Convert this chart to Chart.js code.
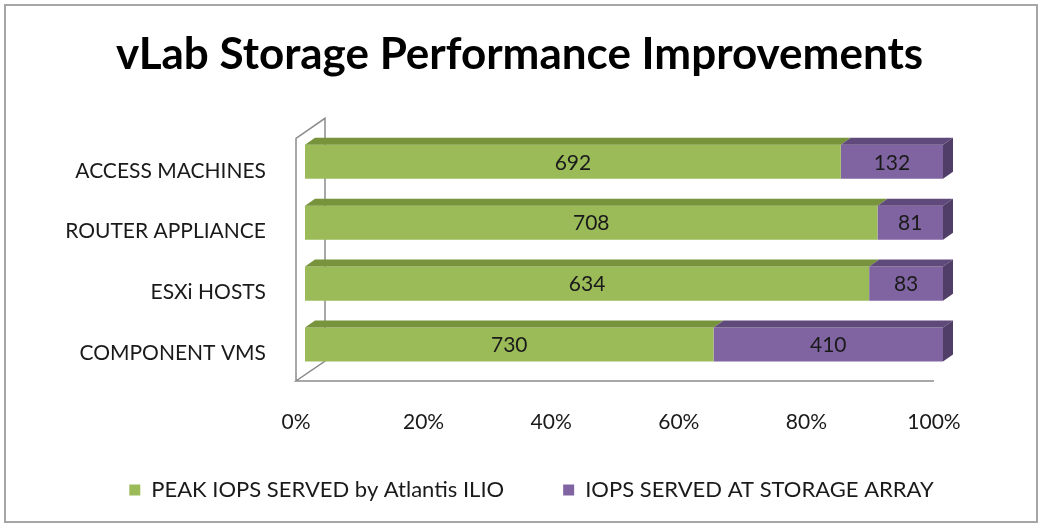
<!DOCTYPE html>
<html>
<head>
<meta charset="utf-8">
<title>vLab Storage Performance Improvements</title>
<script src="https://cdn.jsdelivr.net/npm/chart.js@4/dist/chart.umd.min.js"></script>
<style>
    body { margin: 0; background: #fff; }
    #wrap { position: relative; width: 1039px; height: 525px; }
    #frame {
        position: absolute; left: 4px; top: 4px; width: 1030px; height: 515px;
        border: 2px solid #a6a6a6; pointer-events: none;
    }
    canvas { position: absolute; left: 0; top: 0; }
</style>
</head>
<body>
<div id="wrap">
    <canvas id="storageChart" width="1039" height="525"></canvas>
    <div id="frame"></div>
</div>
<script>
const categories = ["ACCESS MACHINES", "ROUTER APPLIANCE", "ESXi HOSTS", "COMPONENT VMS"];
const peakIops = [692, 708, 634, 730];
const arrayIops = [132, 81, 83, 410];
const seriesNames = ["PEAK IOPS SERVED by Atlantis ILIO", "IOPS SERVED AT STORAGE ARRAY"];
const tickValues = [0, 20, 40, 60, 80, 100];

const frontColors = ["#9BBB59", "#8064A2"];
const topColors = ["#77933C", "#604A7B"];
const sideColor = "#513E68";
const textColor = "#1a1a1a";
const fontFamily = "Lato, 'Open Sans', sans-serif";

// 3d look: how far the top / right faces are pushed back
const DEPTH_X = 10;
const DEPTH_Y = -7;

// 100% stacked: turn each row into shares
const totals = peakIops.map((v, i) => v + arrayIops[i]);
const peakShare = peakIops.map((v, i) => v / totals[i] * 100);
const arrayShare = arrayIops.map((v, i) => v / totals[i] * 100);

const wallPlugin = {
    id: "wall3d",
    beforeDatasetsDraw(chart) {
        const ctx = chart.ctx;
        const area = chart.chartArea;
        const xs = chart.scales.x;
        const fx = xs.getPixelForValue(0) - 9;
        const fxEnd = xs.getPixelForValue(100) - 9;
        const floorY = area.bottom + 6;
        const wallTop = area.top + 7;
        const dx = 29, dy = -20;

        ctx.save();
        ctx.strokeStyle = "#8c8c8c";
        ctx.lineWidth = 1.5;
        ctx.beginPath();
        // left wall, front edge and back edge
        ctx.moveTo(fx, floorY);
        ctx.lineTo(fx, wallTop);
        ctx.lineTo(fx + dx, wallTop + dy);
        ctx.lineTo(fx + dx, floorY + dy);
        ctx.lineTo(fx, floorY);
        // floor front edge
        ctx.lineTo(fxEnd, floorY);
        ctx.stroke();
        ctx.restore();
    }
};

const barFacesPlugin = {
    id: "barFaces",
    afterDatasetsDraw(chart) {
        const ctx = chart.ctx;
        ctx.save();
        chart.data.datasets.forEach((ds, di) => {
            const meta = chart.getDatasetMeta(di);
            meta.data.forEach((bar) => {
                const x0 = Math.min(bar.base, bar.x);
                const x1 = Math.max(bar.base, bar.x);
                const top = bar.y - bar.height / 2;
                const bottom = bar.y + bar.height / 2;

                ctx.fillStyle = topColors[di];
                ctx.beginPath();
                ctx.moveTo(x0, top);
                ctx.lineTo(x0 + DEPTH_X, top + DEPTH_Y);
                ctx.lineTo(x1 + DEPTH_X, top + DEPTH_Y);
                ctx.lineTo(x1, top);
                ctx.closePath();
                ctx.fill();

                if (di === chart.data.datasets.length - 1) {
                    ctx.fillStyle = sideColor;
                    ctx.beginPath();
                    ctx.moveTo(x1, top);
                    ctx.lineTo(x1 + DEPTH_X, top + DEPTH_Y);
                    ctx.lineTo(x1 + DEPTH_X, bottom + DEPTH_Y);
                    ctx.lineTo(x1, bottom);
                    ctx.closePath();
                    ctx.fill();
                }
            });
        });

        // value labels in the middle of each front face
        ctx.fillStyle = textColor;
        ctx.font = "21px " + fontFamily;
        ctx.textAlign = "center";
        ctx.textBaseline = "middle";
        chart.data.datasets.forEach((ds, di) => {
            const meta = chart.getDatasetMeta(di);
            meta.data.forEach((bar, i) => {
                ctx.fillText(String(ds.rawValues[i]), (bar.base + bar.x) / 2, bar.y + 1);
            });
        });
        ctx.restore();
    }
};

// legend is nudged up and right so its row sits where the original has it
const legendShiftPlugin = {
    id: "legendShift",
    afterLayout(chart) {
        const legend = chart.legend;
        if (legend) {
            legend.top -= 14;
            legend.bottom -= 14;
            legend.left += 12;
            legend.right += 12;
        }
    }
};

const ctx = document.getElementById("storageChart").getContext("2d");

new Chart(ctx, {
    type: "bar",
    data: {
        labels: categories,
        datasets: [
            {
                label: seriesNames[0],
                data: peakShare,
                rawValues: peakIops,
                backgroundColor: frontColors[0],
                borderWidth: 0,
                categoryPercentage: 0.56,
                barPercentage: 1
            },
            {
                label: seriesNames[1],
                data: arrayShare,
                rawValues: arrayIops,
                backgroundColor: frontColors[1],
                borderWidth: 0,
                categoryPercentage: 0.56,
                barPercentage: 1
            }
        ]
    },
    options: {
        indexAxis: "y",
        responsive: false,
        animation: false,
        devicePixelRatio: 1,
        layout: { padding: 0 },
        scales: {
            x: {
                stacked: true,
                min: 0,
                max: 100,
                afterBuildTicks(scale) {
                    scale.ticks = tickValues.map(v => ({ value: v }));
                },
                ticks: {
                    callback: v => v + "%",
                    labelOffset: -9,
                    padding: 35,
                    color: textColor,
                    font: { family: fontFamily, size: 21 }
                },
                grid: { display: false, drawTicks: false },
                border: { display: false },
                afterFit(scale) { scale.height = 59; }
            },
            y: {
                stacked: true,
                ticks: {
                    labelOffset: 9,
                    padding: 39,
                    color: textColor,
                    font: { family: fontFamily, size: 21 }
                },
                grid: { display: false, drawTicks: false },
                border: { display: false },
                afterFit(scale) { scale.width = 305; }
            },
            yRight: {
                type: "category",
                position: "right",
                display: true,
                ticks: { display: false },
                grid: { display: false, drawTicks: false },
                border: { display: false },
                afterFit(scale) { scale.width = 96; }
            }
        },
        plugins: {
            title: {
                display: true,
                text: "vLab Storage Performance Improvements",
                color: "#000",
                font: { family: fontFamily, size: 44, weight: "bold", lineHeight: 1.2 },
                padding: { top: 28.6, bottom: 49.9 }
            },
            legend: {
                position: "bottom",
                labels: {
                    color: textColor,
                    font: { family: fontFamily, size: 22 },
                    boxWidth: 11,
                    boxHeight: 11,
                    padding: 59
                }
            },
            tooltip: { enabled: false }
        }
    },
    plugins: [wallPlugin, barFacesPlugin, legendShiftPlugin]
});
</script>
</body>
</html>
